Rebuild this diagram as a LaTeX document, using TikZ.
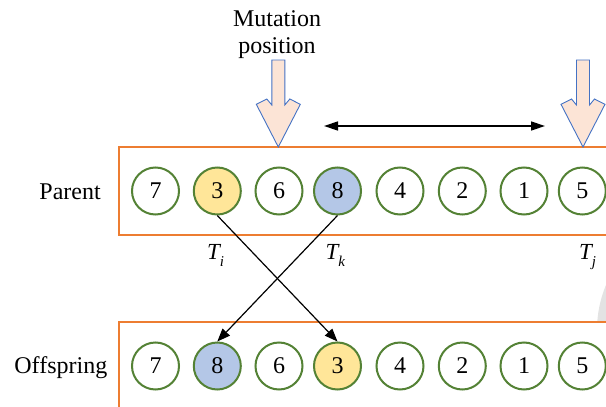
\documentclass[tikz,border=0pt]{standalone}
\usepackage{fontspec}
\setmainfont{Liberation Serif}
\usetikzlibrary{arrows.meta}
\definecolor{boxorange}{HTML}{ED7D31}
\definecolor{cgreen}{HTML}{548235}
\definecolor{cyellow}{HTML}{FFE699}
\definecolor{cblue}{HTML}{B4C7E7}
\definecolor{apink}{HTML}{FCE4D6}
\definecolor{ablue}{HTML}{4472C4}
\begin{document}
\begin{tikzpicture}[x=1pt,y=-1pt,
  gene/.style={circle,draw=cgreen,line width=2pt,minimum size=47pt,inner sep=0pt,fill=white,font=\fontsize{24}{28}\selectfont},
  ygene/.style={gene,fill=cyellow},
  bgene/.style={gene,fill=cblue},
  rowbox/.style={draw=boxorange,line width=1.5pt,fill=white},
  lbl/.style={font=\fontsize{24}{27}\selectfont,inner sep=0pt},
  tlbl/.style={font=\fontsize{23}{26}\selectfont,inner sep=0pt,anchor=base west},
  blockarrow/.style={fill=apink,draw=ablue,line width=0.9pt,line join=miter},
  swap/.style={line width=1.2pt,-{Triangle[length=13pt,width=10pt]}},
  dbl/.style={line width=1.4pt,{Triangle[length=14pt,width=9pt]}-{Triangle[length=14pt,width=9pt]}}
]
\useasboundingbox (0,0) rectangle (606,407);
\fill[black!11] (714,330) circle (117);
% boxes
\draw[rowbox] (119,147) rectangle (630,235);
\draw[rowbox] (119,322) rectangle (630,430);
% labels
\node[lbl,anchor=base east] (plabel) at (101,199) {Parent};
\node[lbl,anchor=base east] (olabel) at (107.5,373.3) {Offspring};
\node[lbl,anchor=base] (mut1) at (277,26) {Mutation};
\node[lbl,anchor=base] (mut2) at (277,53) {position};
% parent genes
\node[gene]  (p1) at (155.5,191) {7};
\node[ygene] (p2) at (217.3,191) {3};
\node[gene]  (p3) at (279,191) {6};
\node[bgene] (p4) at (337.5,191) {8};
\node[gene]  (p5) at (400,191) {4};
\node[gene]  (p6) at (462.3,191) {2};
\node[gene]  (p7) at (524,191) {1};
\node[gene]  (p8) at (582.3,191) {5};
% offspring genes
\node[gene]  (o1) at (155.5,366) {7};
\node[bgene] (o2) at (217.3,366) {8};
\node[gene]  (o3) at (279,366) {6};
\node[ygene] (o4) at (337.5,366) {3};
\node[gene]  (o5) at (400,366) {4};
\node[gene]  (o6) at (462.3,366) {2};
\node[gene]  (o7) at (524,366) {1};
\node[gene]  (o8) at (582.3,366) {5};
% T labels
\node[tlbl] (ti) at (207,259.3) {\textit{T}\kern-1.5pt\raisebox{-7pt}{\fontsize{15}{15}\selectfont\textit{i}}};
\node[tlbl] (tk) at (325.5,259.3) {\textit{T}\kern-1.5pt\raisebox{-7pt}{\fontsize{15}{15}\selectfont\textit{k}}};
\node[tlbl] (tj) at (579,259.3) {\textit{T}\kern-1.5pt\raisebox{-7pt}{\fontsize{15}{15}\selectfont\textit{j}}};
% swap arrows
\draw[swap] (p2.south) -- (o4.north);
\draw[swap] (p4.south) -- (o2.north);
% double arrow
\coordinate (dl) at (324,126);
\coordinate (dr) at (545,126);
\draw[dbl] (dl) -- (dr);
% block arrows
\foreach \cx in {278.3,583} {
  \draw[blockarrow] (\cx-6.5,60) -- (\cx-6.5,105) -- (\cx-11.5,99) -- (\cx-22,104.3)
    -- (\cx,147) -- (\cx+22,104.3) -- (\cx+11.5,99) -- (\cx+6.5,105) -- (\cx+6.5,60) -- cycle;
}
\end{tikzpicture}
\end{document}
